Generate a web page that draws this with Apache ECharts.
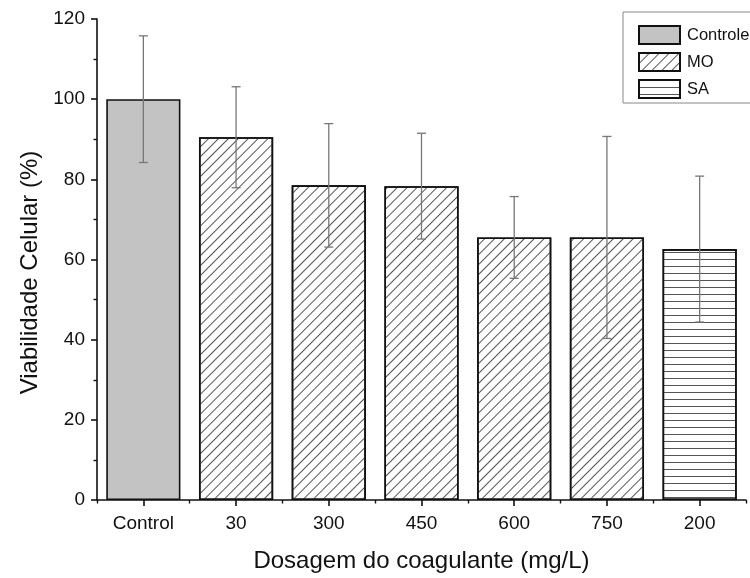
<!DOCTYPE html>
<html>
<head>
<meta charset="utf-8">
<script src="https://cdn.jsdelivr.net/npm/echarts@6/dist/echarts.min.js"></script>
<style>
  html, body { margin: 0; padding: 0; background: #fff; }
  #chart { width: 750px; height: 578px; }
</style>
</head>
<body>
<div id="chart"></div>
<script>
// Dosage categories (mg/L)
const categories = ['Control', '30', '300', '450', '600', '750', '200'];

// Cell viability (%) per group; '-' where a group has no bar
const controleValues = [100, '-', '-', '-', '-', '-', '-'];
const moValues = ['-', 90.5, 78.5, 78.3, 65.5, 65.5, '-'];
const saValues = ['-', '-', '-', '-', '-', '-', 62.6];

// Standard deviation for each category
const sdValues = [15.8, 12.6, 15.4, 13.2, 10.2, 25.2, 18.2];

// Y axis ticks
const yMin = 0, yMax = 120, yStep = 20;

const FONT = 'Liberation Sans, Arial, sans-serif';

// Mean per category, taken from whichever group owns it
const means = categories.map((_, i) => {
  for (const arr of [controleValues, moValues, saValues]) {
    if (arr[i] !== '-') return arr[i];
  }
  return null;
});
const errorData = categories.map((_, i) => [i, means[i] - sdValues[i], means[i] + sdValues[i]]);

const barBorder = { borderColor: '#111', borderWidth: 1.6 };

const chart = echarts.init(document.getElementById('chart'), null, { renderer: 'canvas' });

chart.setOption({
  animation: false,
  backgroundColor: '#fff',
  textStyle: { fontFamily: FONT },
  grid: { left: 97, right: 4, top: 19, bottom: 78, containLabel: false, outerBoundsMode: 'none' },
  legend: {
    orient: 'vertical',
    left: 623,
    top: 12,
    padding: [13, 30, 4, 15],
    itemWidth: 41,
    itemHeight: 18,
    itemGap: 7,
    icon: 'rect',
    borderColor: '#888',
    borderWidth: 1,
    textStyle: { fontSize: 16.5, color: '#111', fontFamily: FONT, padding: [0, 0, 0, 2] },
    data: ['Controle', 'MO', 'SA']
  },
  xAxis: [
    {
      type: 'category',
      data: categories,
      position: 'bottom',
      axisLine: { show: true, lineStyle: { color: '#111', width: 1.6 } },
      axisTick: { show: true, alignWithLabel: true, length: 6, lineStyle: { color: '#111', width: 1.6 } },
      axisLabel: { fontSize: 19, color: '#111', margin: 14, fontFamily: FONT },
      name: 'Dosagem do coagulante (mg/L)',
      nameLocation: 'middle',
      nameGap: 49,
      nameTextStyle: { fontSize: 24, color: '#111', fontFamily: FONT },
      splitLine: { show: false }
    },
    {
      // boundary ticks between categories
      type: 'category',
      data: categories,
      position: 'bottom',
      axisLine: { show: false },
      axisTick: { show: true, alignWithLabel: false, length: 3.5, lineStyle: { color: '#111', width: 1.4 } },
      axisLabel: { show: false },
      splitLine: { show: false }
    }
  ],
  yAxis: {
    type: 'value',
    min: yMin,
    max: yMax,
    interval: yStep,
    axisLine: { show: true, lineStyle: { color: '#111', width: 1.6 } },
    axisTick: { show: true, length: 6, lineStyle: { color: '#111', width: 1.6 } },
    minorTick: { show: true, splitNumber: 2, length: 3.5, lineStyle: { color: '#111', width: 1.4 } },
    splitLine: { show: false },
    minorSplitLine: { show: false },
    axisLabel: { fontSize: 19, color: '#111', margin: 12, fontFamily: FONT },
    name: 'Viabilidade Celular (%)',
    nameLocation: 'middle',
    nameGap: 55,
    nameRotate: 90,
    nameTextStyle: { fontSize: 24, color: '#111', fontFamily: FONT, padding: [0, 26, 0, 0] }
  },
  series: [
    {
      name: 'Controle',
      type: 'bar',
      stack: 'all',
      barCategoryGap: '20%',
      data: controleValues,
      itemStyle: Object.assign({ color: '#c3c3c3' }, barBorder)
    },
    {
      name: 'MO',
      type: 'bar',
      stack: 'all',
      barCategoryGap: '20%',
      data: moValues,
      itemStyle: Object.assign({
        color: '#ffffff',
        decal: {
          symbol: 'rect',
          symbolSize: 1,
          dashArrayX: [1, 0],
          dashArrayY: [1, 6],
          rotation: -Math.PI / 4,
          color: '#555'
        }
      }, barBorder)
    },
    {
      name: 'SA',
      type: 'bar',
      stack: 'all',
      barCategoryGap: '20%',
      data: saValues,
      itemStyle: Object.assign({
        color: '#ffffff',
        decal: {
          symbol: 'rect',
          symbolSize: 1,
          dashArrayX: [1, 0],
          dashArrayY: [1, 5.3],
          rotation: 0,
          color: '#555'
        }
      }, barBorder)
    },
    {
      name: 'sd',
      type: 'custom',
      data: errorData,
      encode: { x: 0, y: [1, 2] },
      z: 10,
      renderItem: function (params, api) {
        const idx = api.value(0);
        const top = api.coord([idx, api.value(2)]);
        const bottom = api.coord([idx, api.value(1)]);
        const half = 4.5;
        const style = { stroke: '#777', lineWidth: 1.3 };
        return {
          type: 'group',
          children: [
            { type: 'line', shape: { x1: top[0], y1: top[1], x2: bottom[0], y2: bottom[1] }, style: style },
            { type: 'line', shape: { x1: top[0] - half, y1: top[1], x2: top[0] + half, y2: top[1] }, style: style },
            { type: 'line', shape: { x1: bottom[0] - half, y1: bottom[1], x2: bottom[0] + half, y2: bottom[1] }, style: style }
          ]
        };
      }
    }
  ]
});
</script>
</body>
</html>
